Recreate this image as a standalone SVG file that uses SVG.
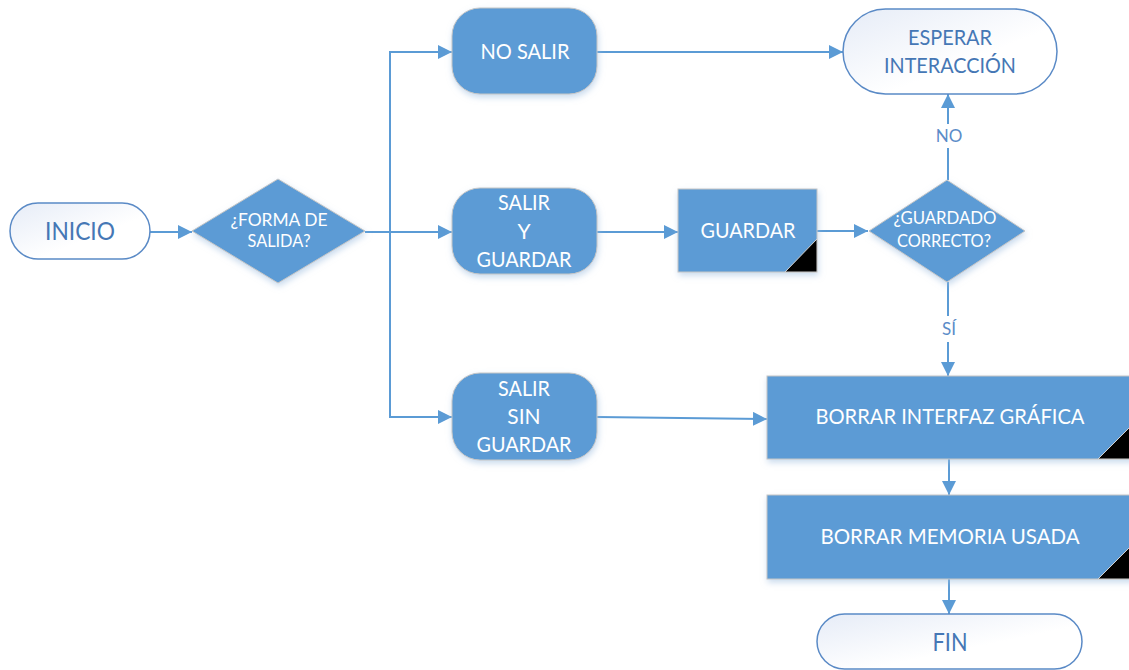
<svg xmlns="http://www.w3.org/2000/svg" width="1129" height="670" viewBox="0 0 1129 670">
  <style>
    .conn { fill: none; stroke: #5b9bd5; stroke-width: 2; }
    .proc { fill: #5b9bd5; stroke: #c6c6c6; stroke-width: 1; filter: url(#shadow); }
    .term { fill: url(#termFill); stroke: #5a8ac6; stroke-width: 1.5; }
    .corner { fill: url(#cornerFill); stroke: #d0d0d0; stroke-width: 1; }
    .wt { fill: #ffffff; font-family: Lato, "Liberation Sans", sans-serif; text-anchor: middle; dominant-baseline: central; }
    .bt { fill: #4577b5; font-family: Lato, "Liberation Sans", sans-serif; text-anchor: middle; dominant-baseline: central; }
    .lbl { fill: #5b8cc8; font-family: Lato, "Liberation Sans", sans-serif; font-size: 17px; text-anchor: middle; dominant-baseline: central; }
  </style>
  <defs>
    <linearGradient id="termFill" x1="0" y1="0" x2="1" y2="1">
      <stop offset="0" stop-color="#e6ecf7"/>
      <stop offset="0.6" stop-color="#ffffff"/>
      <stop offset="1" stop-color="#ffffff"/>
    </linearGradient>
    <linearGradient id="cornerFill" x1="0" y1="0" x2="1" y2="1">
      <stop offset="0" stop-color="#3a3a3a"/>
      <stop offset="0.5" stop-color="#000000"/>
      <stop offset="1" stop-color="#000000"/>
    </linearGradient>
    <filter id="shadow" x="-10%" y="-10%" width="125%" height="130%">
      <feDropShadow dx="1" dy="3" stdDeviation="3" flood-color="#9cbde0" flood-opacity="0.55"/>
    </filter>
    <marker id="arrow" markerUnits="userSpaceOnUse" markerWidth="14" markerHeight="14" viewBox="0 0 14 14" refX="14" refY="7" orient="auto">
      <path d="M0,0 L14,7 L0,14 Z" fill="#5b9bd5"/>
    </marker>
  </defs>

  <!-- connectors -->
  <g id="connectors">
    <path class="conn" d="M150,232 H192" marker-end="url(#arrow)"/>
    <path class="conn" d="M365,232 H452" marker-end="url(#arrow)"/>
    <path class="conn" d="M390,232 V52 H452" marker-end="url(#arrow)"/>
    <path class="conn" d="M390,232 V417 H452" marker-end="url(#arrow)"/>
    <path class="conn" d="M597,52 H843" marker-end="url(#arrow)"/>
    <path class="conn" d="M597,232 H678" marker-end="url(#arrow)"/>
    <path class="conn" d="M817,231 H868" marker-end="url(#arrow)"/>
    <path class="conn" d="M948,180 V94" marker-end="url(#arrow)"/>
    <path class="conn" d="M948,282 V376" marker-end="url(#arrow)"/>
    <path class="conn" d="M597,417 L767,419" marker-end="url(#arrow)"/>
    <path class="conn" d="M949,459 V495" marker-end="url(#arrow)"/>
    <path class="conn" d="M949,579 V614" marker-end="url(#arrow)"/>
    <!-- branch labels -->
    <rect x="934" y="124" width="30" height="24" fill="#ffffff"/>
    <text class="lbl" x="949" y="135.5">NO</text>
    <rect x="936" y="316" width="24" height="26" fill="#ffffff"/>
    <text class="lbl" x="949" y="328.5">SÍ</text>
  </g>

  <g id="inicio">
    <rect class="term" x="10" y="203" width="140" height="56" rx="28"/>
    <text class="bt" x="80" y="229.5" font-size="25" textLength="70" lengthAdjust="spacingAndGlyphs">INICIO</text>
  </g>

  <g id="forma-salida">
    <polygon class="proc" points="192,231 278,179 365,231 278,283"/>
    <text class="wt" x="279" y="219.5" font-size="17" textLength="97" lengthAdjust="spacingAndGlyphs">¿FORMA DE</text>
    <text class="wt" x="279" y="240.5" font-size="17" textLength="63" lengthAdjust="spacingAndGlyphs">SALIDA?</text>
  </g>

  <g id="no-salir">
    <rect class="proc" x="452" y="8" width="145" height="86" rx="28"/>
    <text class="wt" x="525" y="50.5" font-size="21" textLength="89" lengthAdjust="spacingAndGlyphs">NO SALIR</text>
  </g>

  <g id="esperar">
    <rect class="term" x="843" y="9" width="214" height="85" rx="42.5"/>
    <text class="bt" x="950" y="36.5" font-size="21" textLength="84" lengthAdjust="spacingAndGlyphs">ESPERAR</text>
    <text class="bt" x="950" y="64.5" font-size="21" textLength="132" lengthAdjust="spacingAndGlyphs">INTERACCIÓN</text>
  </g>

  <g id="salir-guardar">
    <rect class="proc" x="452" y="188" width="145" height="86" rx="28"/>
    <text class="wt" x="524" y="201.5" font-size="21" textLength="52" lengthAdjust="spacingAndGlyphs">SALIR</text>
    <text class="wt" x="524" y="230.5" font-size="21">Y</text>
    <text class="wt" x="524" y="258.5" font-size="21" textLength="95" lengthAdjust="spacingAndGlyphs">GUARDAR</text>
  </g>

  <g id="salir-sin-guardar">
    <rect class="proc" x="452" y="373" width="145" height="87" rx="28"/>
    <text class="wt" x="524" y="387.5" font-size="21" textLength="52" lengthAdjust="spacingAndGlyphs">SALIR</text>
    <text class="wt" x="524" y="415.5" font-size="21">SIN</text>
    <text class="wt" x="524" y="443.5" font-size="21" textLength="95" lengthAdjust="spacingAndGlyphs">GUARDAR</text>
  </g>

  <g id="guardar">
    <rect class="proc" x="678" y="189" width="139" height="83"/>
    <polygon class="corner" points="785,272 817,272 817,239"/>
    <text class="wt" x="748" y="229.5" font-size="21" textLength="95" lengthAdjust="spacingAndGlyphs">GUARDAR</text>
  </g>

  <g id="guardado-correcto">
    <polygon class="proc" points="869,231 947,180 1025,231 947,282"/>
    <text class="wt" x="945" y="217.5" font-size="17" textLength="103" lengthAdjust="spacingAndGlyphs">¿GUARDADO</text>
    <text class="wt" x="944" y="240.5" font-size="17" textLength="94" lengthAdjust="spacingAndGlyphs">CORRECTO?</text>
  </g>

  <g id="borrar-interfaz">
    <rect class="proc" x="767" y="376" width="366" height="83"/>
    <polygon class="corner" points="1098,459 1133,459 1133,424"/>
    <text class="wt" x="950" y="415.5" font-size="21" textLength="269" lengthAdjust="spacingAndGlyphs">BORRAR INTERFAZ GRÁFICA</text>
  </g>

  <g id="borrar-memoria">
    <rect class="proc" x="767" y="495" width="366" height="84"/>
    <polygon class="corner" points="1098,579 1133,579 1133,544"/>
    <text class="wt" x="950" y="535.5" font-size="21" textLength="259" lengthAdjust="spacingAndGlyphs">BORRAR MEMORIA USADA</text>
  </g>

  <g id="fin">
    <rect class="term" x="817" y="614" width="265" height="55" rx="27.5"/>
    <text class="bt" x="950" y="640.5" font-size="25" textLength="35" lengthAdjust="spacingAndGlyphs">FIN</text>
  </g>
</svg>
